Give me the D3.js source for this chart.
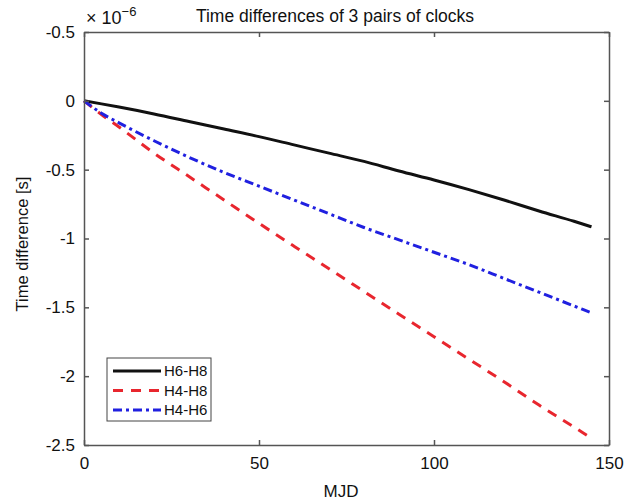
<!DOCTYPE html>
<html>
<head>
<meta charset="utf-8">
<script src="https://cdn.jsdelivr.net/npm/d3@7"></script>
<style>
  body { margin: 0; background: #fff; }
  text { font-family: "Liberation Sans", Arial, sans-serif; fill: #111; }
</style>
</head>
<body>
<div id="chart"></div>
<script>
// MJD sample points
const mjd = [0, 5, 10, 20, 30, 40, 50, 60, 70, 80, 90, 100, 110, 120, 130, 140, 145];

// Time differences (x 1e-6 s)
const h6h8 = [0, -0.022, -0.045, -0.095, -0.15, -0.205, -0.26, -0.32, -0.38, -0.44, -0.51, -0.575, -0.645, -0.72, -0.80, -0.875, -0.915];
const h4h8 = [0, -0.10, -0.19, -0.38, -0.55, -0.72, -0.89, -1.056, -1.22, -1.385, -1.55, -1.713, -1.877, -2.04, -2.21, -2.37, -2.45];
const h4h6 = [0, -0.09, -0.16, -0.29, -0.41, -0.52, -0.62, -0.72, -0.82, -0.92, -1.01, -1.10, -1.19, -1.29, -1.39, -1.49, -1.54];

const seriesNames = ["H6-H8", "H4-H8", "H4-H6"];
const xTicks = [0, 50, 100, 150];
const yTicks = [0.5, 0, -0.5, -1, -1.5, -2, -2.5];
const yTickLabels = ["-0.5", "0", "-0.5", "-1", "-1.5", "-2", "-2.5"];

const series = [
  { name: seriesNames[0], values: h6h8, color: "#111111", dash: null },
  { name: seriesNames[1], values: h4h8, color: "#e8262e", dash: "10,8" },
  { name: seriesNames[2], values: h4h6, color: "#2020e0", dash: "9,4,3,4" }
];

const width = 633, height = 500;
const margin = { top: 32, right: 24, bottom: 55, left: 84 };
const w = width - margin.left - margin.right;
const h = height - margin.top - margin.bottom;

const svg = d3.select("#chart").append("svg")
  .attr("width", width)
  .attr("height", height);

const g = svg.append("g")
  .attr("transform", "translate(" + margin.left + "," + margin.top + ")");

const x = d3.scaleLinear().domain([0, 150]).range([0, w]);
const y = d3.scaleLinear().domain([-2.5, 0.5]).range([h, 0]);

// lines
const line = d3.line()
  .x((d, i) => x(mjd[i]))
  .y(d => y(d))
  .curve(d3.curveMonotoneX);

series.forEach(s => {
  g.append("path")
    .datum(s.values)
    .attr("d", line)
    .attr("fill", "none")
    .attr("stroke", s.color)
    .attr("stroke-width", 3)
    .attr("stroke-dasharray", s.dash);
});

// axes (ticks inward, mirrored on top/right)
const axisColor = "#555";
const axBottom = g.append("g")
  .attr("transform", "translate(0," + h + ")")
  .call(d3.axisBottom(x).tickValues(xTicks).tickSizeInner(-5).tickSizeOuter(0).tickPadding(12));
const axLeft = g.append("g")
  .call(d3.axisLeft(y).tickValues(yTicks).tickFormat((d, i) => yTickLabels[i]).tickSizeInner(-5).tickSizeOuter(0).tickPadding(9));
const axTop = g.append("g")
  .call(d3.axisTop(x).tickValues(xTicks).tickSizeInner(-5).tickSizeOuter(0).tickFormat(""));
const axRight = g.append("g")
  .attr("transform", "translate(" + w + ",0)")
  .call(d3.axisRight(y).tickValues(yTicks).tickSizeInner(-5).tickSizeOuter(0).tickFormat(""));

[axBottom, axLeft, axTop, axRight].forEach(a => {
  a.selectAll("path, line").attr("stroke", axisColor).attr("stroke-width", 1.5);
  a.selectAll("text").style("font-size", "17px").attr("fill", "#111");
});

// exponent label
const expo = svg.append("text")
  .attr("x", 86)
  .attr("y", 24)
  .style("font-size", "18px");
expo.append("tspan").text("\u00d7 10");
expo.append("tspan").attr("dy", -8).style("font-size", "13px").text("\u22126");

// title
svg.append("text")
  .attr("x", 335)
  .attr("y", 22)
  .attr("text-anchor", "middle")
  .style("font-size", "17.5px")
  .text("Time differences of 3 pairs of clocks");

// axis labels
svg.append("text")
  .attr("x", 341)
  .attr("y", 497)
  .attr("text-anchor", "middle")
  .style("font-size", "17px")
  .text("MJD");

svg.append("text")
  .attr("transform", "translate(28,244) rotate(-90)")
  .attr("text-anchor", "middle")
  .style("font-size", "16.5px")
  .text("Time difference [s]");

// legend
const legend = svg.append("g").attr("transform", "translate(107,358)");
legend.append("rect")
  .attr("width", 104)
  .attr("height", 63)
  .attr("fill", "#fff")
  .attr("stroke", "#444")
  .attr("stroke-width", 1);

series.forEach((s, i) => {
  const yy = 13 + i * 19.5;
  legend.append("line")
    .attr("x1", 6).attr("x2", 54)
    .attr("y1", yy).attr("y2", yy)
    .attr("stroke", s.color)
    .attr("stroke-width", 3)
    .attr("stroke-dasharray", s.dash);
  legend.append("text")
    .attr("x", 57)
    .attr("y", yy + 5)
    .style("font-size", "15px")
    .text(s.name);
});
</script>
</body>
</html>
